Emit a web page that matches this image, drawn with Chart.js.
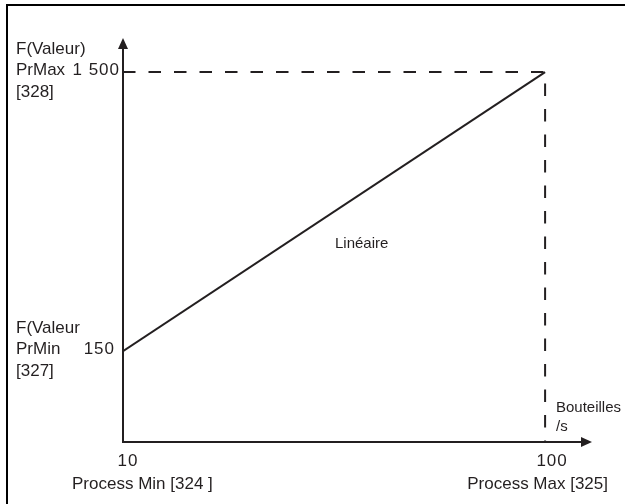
<!DOCTYPE html>
<html>
<head>
<meta charset="utf-8">
<script src="https://cdn.jsdelivr.net/npm/chart.js@4.4.1/dist/chart.umd.min.js"></script>
<style>
  html, body { margin: 0; padding: 0; background: #fff; }
  #wrap { width: 625px; height: 504px; }
</style>
</head>
<body>
<div id="wrap"><canvas id="chart" width="625" height="504"></canvas></div>
<script>
// values
const X_TICKS = [10, 100];
const X_TICK_LABELS = ["10", "100"];
const X_NAMES = ["Process Min [324 ]", "Process Max [325]"];
const Y_TICKS = [150, 1500];
const Y_TICK_LABELS = ["150", "1 500"];
const Y_NAMES = [
  ["F(Valeur", "PrMin", "[327]"],
  ["F(Valeur)", "PrMax", "[328]"],
];
const LINE_X = [10, 100];
const LINE_Y = [150, 1500];
const X_UNIT = ["Bouteilles", "/s"];
const CURVE_NAME = "Linéaire";

// axis ranges (x axis sits at Y_MIN, arrow tips at the max values)
const X_MIN = 10, X_MAX = 110;
const Y_MIN = -290, Y_MAX = 1665;

const INK = "#231f20";
const FONT = '"Liberation Sans", Arial, sans-serif';

const linePoints = LINE_X.map((x, i) => ({ x: x, y: LINE_Y[i] }));
const guidePoints = [
  { x: X_MIN, y: LINE_Y[1] },
  { x: LINE_X[1], y: LINE_Y[1] },
  { x: LINE_X[1], y: Y_MIN },
];

// draws a number label a bit wider, like the digits in the original
function numberText(ctx, txt, x, y) {
  ctx.save();
  ctx.font = "17px " + FONT;
  ctx.letterSpacing = "1px";
  ctx.fillText(txt, x, y);
  ctx.restore();
}

const framePlugin = {
  id: "frame",
  beforeDraw(chart) {
    const ctx = chart.ctx;
    ctx.save();
    ctx.strokeStyle = "#000";
    ctx.lineWidth = 2;
    ctx.strokeRect(7, 5, 660, 540);
    ctx.restore();
  },
  afterDraw(chart) {
    const ctx = chart.ctx;
    const xs = chart.scales.x;
    const ys = chart.scales.y;
    const a = chart.chartArea;
    const x0 = xs.getPixelForValue(X_MIN);
    const y0 = ys.getPixelForValue(Y_MIN);

    ctx.save();
    ctx.strokeStyle = INK;
    ctx.fillStyle = INK;
    ctx.lineWidth = 2;

    // axes
    ctx.beginPath();
    ctx.moveTo(x0, a.top + 8);
    ctx.lineTo(x0, y0);
    ctx.lineTo(a.right - 8, y0);
    ctx.stroke();

    // arrow heads
    ctx.beginPath();
    ctx.moveTo(x0, a.top);
    ctx.lineTo(x0 - 5, a.top + 11);
    ctx.lineTo(x0 + 5, a.top + 11);
    ctx.closePath();
    ctx.fill();
    ctx.beginPath();
    ctx.moveTo(a.right, y0);
    ctx.lineTo(a.right - 11, y0 - 5);
    ctx.lineTo(a.right - 11, y0 + 5);
    ctx.closePath();
    ctx.fill();

    ctx.textBaseline = "middle";

    // y tick labels and names
    ctx.font = "17px " + FONT;
    Y_TICKS.forEach((v, i) => {
      const py = ys.getPixelForValue(v);
      ctx.textAlign = "right";
      numberText(ctx, Y_TICK_LABELS[i], x0 - (i === 0 ? 8 : 3), py - 2);
      ctx.textAlign = "left";
      ctx.fillText(Y_NAMES[i][0], 16, py - 23);
      ctx.fillText(Y_NAMES[i][1], 16, py - 2);
      ctx.fillText(Y_NAMES[i][2], 16, py + 20);
    });

    // x tick labels and names
    X_TICKS.forEach((v, i) => {
      const px = xs.getPixelForValue(v);
      ctx.textAlign = "center";
      numberText(ctx, X_TICK_LABELS[i], px + (i === 0 ? 5 : 7), y0 + 19);
      ctx.textAlign = i === 0 ? "left" : "right";
      ctx.fillText(X_NAMES[i], i === 0 ? 72 : 608, y0 + 42);
    });

    // unit and curve name
    ctx.textAlign = "left";
    ctx.font = "15px " + FONT;
    ctx.fillText(X_UNIT[0], 556, 408);
    ctx.fillText(X_UNIT[1], 556, 427);
    ctx.fillText(CURVE_NAME, 335, 244);

    ctx.restore();
  },
};

new Chart(document.getElementById("chart"), {
  type: "scatter",
  data: {
    datasets: [
      {
        data: guidePoints,
        showLine: true,
        borderColor: INK,
        borderWidth: 2,
        borderDash: [12.5, 13],
        pointRadius: 0,
        tension: 0,
      },
      {
        data: linePoints,
        showLine: true,
        borderColor: INK,
        borderWidth: 2,
        pointRadius: 0,
        tension: 0,
      },
    ],
  },
  options: {
    responsive: false,
    animation: false,
    layout: { padding: { left: 123, right: 33, top: 38, bottom: 62 } },
    scales: {
      x: { type: "linear", min: X_MIN, max: X_MAX, display: false },
      y: { type: "linear", min: Y_MIN, max: Y_MAX, display: false },
    },
    plugins: {
      legend: { display: false },
      tooltip: { enabled: false },
    },
  },
  plugins: [framePlugin],
});
</script>
</body>
</html>
